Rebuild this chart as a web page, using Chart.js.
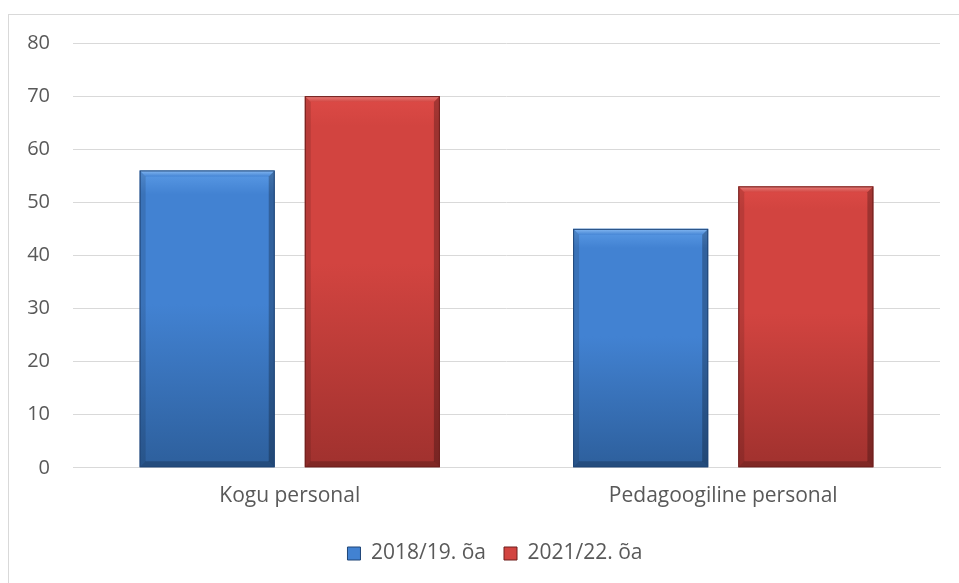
<!DOCTYPE html>
<html>
<head>
<meta charset="utf-8">
<script src="https://cdn.jsdelivr.net/npm/chart.js@4"></script>
<style>
html,body{margin:0;padding:0;background:#fff;}
#wrap{position:relative;width:959px;height:583px;overflow:hidden;}
#frame{position:absolute;left:8px;top:14px;width:1000px;height:600px;border-left:1px solid #d9d9d9;border-top:1px solid #d9d9d9;box-sizing:border-box;pointer-events:none;}
canvas{position:absolute;left:0;top:0;}
</style>
</head>
<body>
<div id="wrap">
<canvas id="c" width="959" height="583"></canvas>
<div id="frame"></div>
</div>
<script>
const categories = ["Kogu personal", "Pedagoogiline personal"];
const seriesNames = ["2018/19. õa", "2021/22. õa"];
const values2018 = [56, 45];
const values2021 = [70, 53];
const yTicks = [0, 10, 20, 30, 40, 50, 60, 70, 80];

const palettes = [
  {top: "#5b9be6", mid: "#4282d2", bottom: "#2d5f9c", edge: "#1f4577", hi: "#8fc0f5"},
  {top: "#dd4a46", mid: "#d24440", bottom: "#a0312e", edge: "#6e1f1d", hi: "#e98a86"}
];

function barGradient(ctx, pal) {
  const chart = ctx.chart;
  const area = chart.chartArea;
  if (!area || ctx.type !== 'data') return pal.mid;
  const ys = chart.scales.y;
  const yTop = ys.getPixelForValue(ctx.raw);
  const yBase = ys.getPixelForValue(0);
  const g = chart.ctx.createLinearGradient(0, yTop, 0, yBase);
  g.addColorStop(0, pal.top);
  g.addColorStop(0.08, pal.mid);
  g.addColorStop(0.45, pal.mid);
  g.addColorStop(1, pal.bottom);
  return g;
}

const bevelPlugin = {
  id: 'bevel',
  afterDatasetsDraw(chart) {
    const c = chart.ctx;
    chart.data.datasets.forEach((ds, di) => {
      const meta = chart.getDatasetMeta(di);
      const pal = palettes[di];
      meta.data.forEach(bar => {
        const w = bar.width, x0 = bar.x - w / 2, x1 = bar.x + w / 2;
        const yT = bar.y, yB = bar.base;
        const b = 6;
        c.save();
        c.beginPath();
        c.moveTo(x0, yT); c.lineTo(x1, yT); c.lineTo(x1 - b, yT + b); c.lineTo(x0 + b, yT + b); c.closePath();
        const g = c.createLinearGradient(0, yT, 0, yT + b);
        g.addColorStop(0, pal.hi); g.addColorStop(1, pal.mid);
        c.fillStyle = g; c.globalAlpha = 0.85; c.fill();
        c.globalAlpha = 0.25;
        c.fillStyle = '#000';
        c.beginPath();
        c.moveTo(x1, yT); c.lineTo(x1, yB); c.lineTo(x1 - b, yB - b); c.lineTo(x1 - b, yT + b); c.closePath(); c.fill();
        c.globalAlpha = 0.12;
        c.beginPath();
        c.moveTo(x0, yT); c.lineTo(x0, yB); c.lineTo(x0 + b, yB - b); c.lineTo(x0 + b, yT + b); c.closePath(); c.fill();
        c.globalAlpha = 0.2;
        c.beginPath();
        c.moveTo(x0, yB); c.lineTo(x1, yB); c.lineTo(x1 - b, yB - b); c.lineTo(x0 + b, yB - b); c.closePath(); c.fill();
        c.globalAlpha = 1;
        c.strokeStyle = pal.edge; c.lineWidth = 1;
        c.strokeRect(x0 + 0.5, yT + 0.5, w - 1, yB - yT - 1);
        c.restore();
      });
    });
  }
};

const legendShift = {
  id: 'legendShift',
  afterLayout(chart) {
    const lg = chart.legend;
    if (lg) { lg.left += 25; lg.right += 25; }
  }
};

const FONT = "'Open Sans', 'Liberation Sans', sans-serif";
const TXT = "#595959";

new Chart(document.getElementById('c'), {
  type: 'bar',
  data: {
    labels: categories,
    datasets: [
      {label: seriesNames[0], data: values2018, backgroundColor: ctx => barGradient(ctx, palettes[0]), borderWidth: 0,
       categoryPercentage: 0.762, barPercentage: 0.818},
      {label: seriesNames[1], data: values2021, backgroundColor: ctx => barGradient(ctx, palettes[1]), borderWidth: 0,
       categoryPercentage: 0.762, barPercentage: 0.818}
    ]
  },
  options: {
    responsive: false,
    animation: false,
    devicePixelRatio: 1,
    layout: {padding: {left: 0, right: 19, top: 43, bottom: 9}},
    scales: {
      x: {
        grid: {display: false, drawTicks: false},
        border: {display: true, color: '#d9d9d9', width: 1},
        ticks: {color: TXT, font: {family: FONT, size: 21}, padding: 16}
      },
      y: {
        min: 0, max: 80,
        afterBuildTicks: axis => { axis.ticks = yTicks.map(v => ({value: v})); },
        afterFit: axis => { axis.width = 73; },
        grid: {color: '#d9d9d9', drawTicks: false, lineWidth: 1},
        border: {display: false},
        ticks: {color: TXT, font: {family: FONT, size: 20}, padding: 23}
      }
    },
    plugins: {
      legend: {
        position: 'bottom',
        labels: {
          color: TXT, font: {family: FONT, size: 21},
          boxWidth: 13, boxHeight: 13, padding: 18,
          generateLabels: chart => chart.data.datasets.map((ds, i) => ({
            text: ds.label, fillStyle: palettes[i].mid, strokeStyle: palettes[i].edge, lineWidth: 1,
            datasetIndex: i, hidden: false, fontColor: TXT
          }))
        }
      },
      tooltip: {enabled: false}
    }
  },
  plugins: [bevelPlugin, legendShift]
});
</script>
</body>
</html>
